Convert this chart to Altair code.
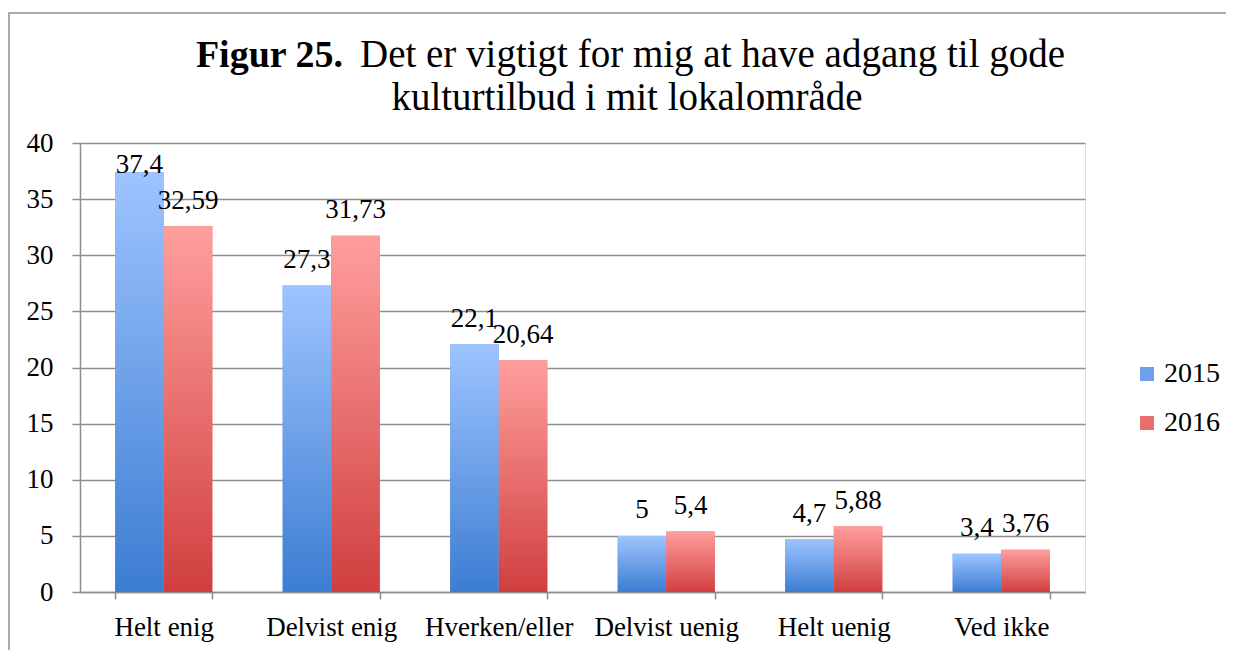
import altair as alt
import pandas as pd

categories = ["Helt enig", "Delvist enig", "Hverken/eller", "Delvist uenig", "Helt uenig", "Ved ikke"]
years = ["2015", "2016"]
v2015 = [37.4, 27.3, 22.1, 5.0, 4.7, 3.4]
v2016 = [32.59, 31.73, 20.64, 5.4, 5.88, 3.76]
labels2015 = ["37,4", "27,3", "22,1", "5", "4,7", "3,4"]
labels2016 = ["32,59", "31,73", "20,64", "5,4", "5,88", "3,76"]
y_ticks = [0, 5, 10, 15, 20, 25, 30, 35, 40]

rows = []
for c, v, l in zip(categories, v2015, labels2015):
    rows.append({"cat": c, "year": "2015", "value": v, "label": l})
for c, v, l in zip(categories, v2016, labels2016):
    rows.append({"cat": c, "year": "2016", "value": v, "label": l})
df = pd.DataFrame(rows)

FONT = "Liberation Serif"
GRAY = "#8E8E8E"

x_enc = alt.X("cat:N", sort=categories, title=None,
              scale=alt.Scale(paddingInner=0.42, paddingOuter=0.21),
              axis=alt.Axis(labelAngle=0, labelFont=FONT, labelFontSize=27, labelColor="black",
                            tickBand="extent", tickSize=7, tickColor=GRAY, tickWidth=1.5,
                            domainColor=GRAY, domainWidth=1.5, labelPadding=15, grid=False))
y_enc = alt.Y("value:Q", title=None, scale=alt.Scale(domain=[0, 40], nice=False),
              axis=alt.Axis(values=y_ticks, labelFont=FONT, labelFontSize=27, labelColor="black",
                            tickSize=8, tickColor=GRAY, tickWidth=1.5, domainColor=GRAY, domainWidth=1.5,
                            grid=True, gridColor=GRAY, gridWidth=1.5, labelPadding=19))
xo = alt.XOffset("year:N", sort=years, scale=alt.Scale(paddingInner=0, paddingOuter=0))

base = alt.Chart(df)

legend_bars = base.mark_bar().encode(
    x=x_enc, y=y_enc, xOffset=xo,
    color=alt.Color("year:N", sort=years,
                    scale=alt.Scale(domain=years, range=["#6E9FEA", "#E86E6E"]),
                    legend=alt.Legend(orient="none", legendX=1053, legendY=217, title=None,
                                      symbolType="square", symbolSize=196, symbolStrokeWidth=0,
                                      labelFont=FONT, labelFontSize=28, labelColor="black",
                                      labelOffset=3, rowPadding=21)),
)

def grad(top, bottom):
    return alt.Gradient(gradient="linear", x1=0, y1=0, x2=0, y2=1,
                        stops=[alt.GradientStop(color=top, offset=0),
                               alt.GradientStop(color=bottom, offset=1)])

bars15 = base.transform_filter("datum.year == '2015'").mark_bar(
    color=grad("#9EC4FF", "#3C7DD2")).encode(x=x_enc, y=y_enc, xOffset=xo)
bars16 = base.transform_filter("datum.year == '2016'").mark_bar(
    color=grad("#FF9F9D", "#D03F3F")).encode(x=x_enc, y=y_enc, xOffset=xo)

texts = base.transform_calculate(ly="min(datum.value + 1.55, 37.3)").mark_text(
    font=FONT, fontSize=27, color="black", baseline="alphabetic", align="center").encode(
    x=x_enc, xOffset=xo, y=alt.Y("ly:Q"), text="label:N")

one = pd.DataFrame({"t": ["x"]})
title_bold = alt.Chart(one).mark_text(font=FONT, fontSize=38, fontWeight="bold", color="black",
                                      align="right", baseline="alphabetic").encode(
    x=alt.value(263), y=alt.value(-76), text=alt.value("Figur 25."))
title_reg = alt.Chart(one).mark_text(font=FONT, fontSize=39, color="black",
                                     align="left", baseline="alphabetic").encode(
    x=alt.value(280), y=alt.value(-76), text=alt.value("Det er vigtigt for mig at have adgang til gode"))
title_l2 = alt.Chart(one).mark_text(font=FONT, fontSize=39, color="black",
                                    align="center", baseline="alphabetic").encode(
    x=alt.value(547), y=alt.value(-33), text=alt.value("kulturtilbud i mit lokalområde"))

border = alt.Chart(one).mark_rect(fill=None, stroke=GRAY, strokeWidth=1.5).encode(
    x=alt.value(-71), x2=alt.value(1250), y=alt.value(-130), y2=alt.value(560))

chart = alt.layer(border, legend_bars, bars15, bars16, texts, title_bold, title_reg, title_l2).properties(
    width=1005, height=449,
    padding={"left": 72, "top": 135, "right": 141, "bottom": 58},
    autosize=alt.AutoSizeParams(type="none"),
).configure_view(stroke=None).configure(background="white")

chart.save("out.html", embed_options={"renderer": "svg", "actions": False})
